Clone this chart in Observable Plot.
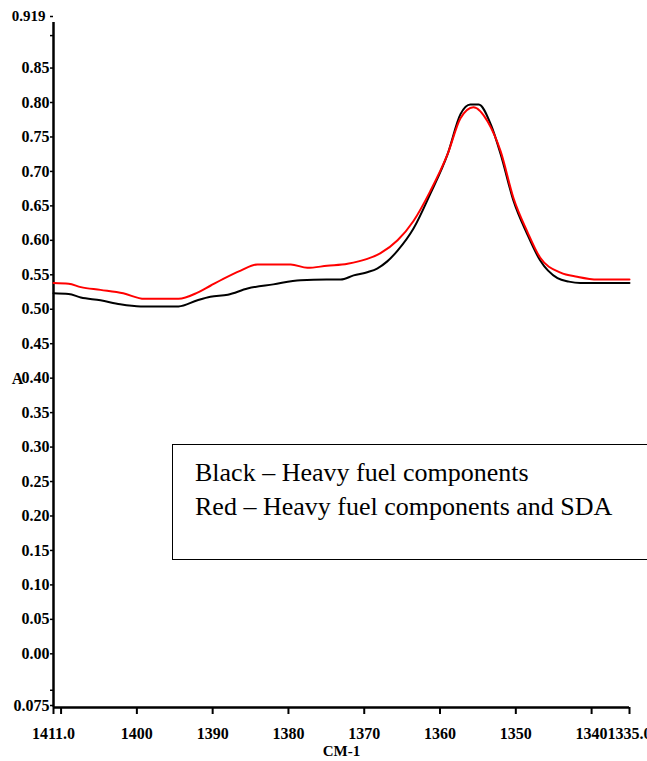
<!DOCTYPE html>
<html>
<head>
<meta charset="utf-8">
<script src="https://cdn.jsdelivr.net/npm/d3@7"></script>
<script src="https://cdn.jsdelivr.net/npm/@observablehq/plot@0.6"></script>
<style>
  html, body { margin: 0; padding: 0; background: #fff; }
  #wrap { position: relative; width: 647px; height: 761px; overflow: hidden; background: #fff; }
  #chart svg text { font-family: "Liberation Serif", "Times New Roman", serif; font-weight: bold; }
  #legend {
    position: absolute; left: 172px; top: 444px; width: 520px; height: 116px;
    border: 1.5px solid #000; box-sizing: border-box; background: #fff;
    font-family: "Liberation Serif", "Times New Roman", serif; font-size: 26px; color: #000;
    padding: 11px 0 0 22px; line-height: 34px;
  }
</style>
</head>
<body>
<div id="wrap"><div id="chart"></div>
<div id="legend"><div>Black – Heavy fuel components</div><div>Red – Heavy fuel components and SDA</div></div>
</div>
<script>
// Wavenumbers (cm-1) and absorbance
const blackWn = [1411, 1409, 1407.4, 1404.8, 1402.2, 1399.5, 1396, 1394.5, 1392, 1390.3, 1388, 1385.4, 1382, 1378.4, 1375, 1373.1, 1371.4, 1369.5, 1368.3, 1367, 1365.6, 1363.5, 1361.3, 1359, 1357.3, 1356, 1354.9, 1353.3, 1352, 1350.3, 1348.5, 1346.8, 1344.5, 1343, 1341.5, 1338, 1335];
const blackA  = [0.526, 0.525, 0.520, 0.516, 0.510, 0.507, 0.507, 0.507, 0.516, 0.521, 0.524, 0.533, 0.539, 0.545, 0.546, 0.546, 0.552, 0.557, 0.562, 0.572, 0.588, 0.620, 0.670, 0.728, 0.786, 0.800, 0.800, 0.771, 0.728, 0.660, 0.612, 0.574, 0.548, 0.543, 0.541, 0.541, 0.541];
const redWn = [1411, 1409, 1407.4, 1404.8, 1401.8, 1399, 1396, 1394.5, 1392, 1390.3, 1388.6, 1386.3, 1384.1, 1382, 1379.7, 1377.5, 1374.9, 1372.2, 1369.6, 1367.9, 1365.6, 1363.5, 1361.3, 1359, 1357.3, 1355.6, 1353.7, 1352, 1350.3, 1348.5, 1346.8, 1344.1, 1341.9, 1339.2, 1335];
const redA  = [0.541, 0.540, 0.535, 0.531, 0.526, 0.518, 0.518, 0.518, 0.527, 0.537, 0.547, 0.559, 0.568, 0.568, 0.568, 0.563, 0.566, 0.569, 0.576, 0.584, 0.603, 0.631, 0.674, 0.728, 0.780, 0.796, 0.775, 0.732, 0.664, 0.616, 0.578, 0.556, 0.550, 0.546, 0.546];

const xTicks = [1411, 1400, 1390, 1380, 1370, 1360, 1350, 1340, 1335];
const xTickLabels = ["1411.0", "1400", "1390", "1380", "1370", "1360", "1350", "1340", "1335.0"];
const xMinorTicks = [1410];
const yTicks = [0.85, 0.80, 0.75, 0.70, 0.65, 0.60, 0.55, 0.50, 0.45, 0.40, 0.35, 0.30, 0.25, 0.20, 0.15, 0.10, 0.05, 0.00, -0.075];
const yTickLabels = ["0.85", "0.80", "0.75", "0.70", "0.65", "0.60", "0.55", "0.50", "0.45", "0.40", "0.35", "0.30", "0.25", "0.20", "0.15", "0.10", "0.05", "0.00", "0.075"];
const yTopTick = [0.919];
const yTopLabel = ["0.919"];
const yMinorTicks = [0.90, -0.05];
const xDomain = [1411, 1335];
const yDomain = [-0.075, 0.919];

const black = blackWn.map((w, i) => ({wn: w, a: blackA[i]}));
const red = redWn.map((w, i) => ({wn: w, a: redA[i]}));
const xLab = new Map(xTicks.map((t, i) => [t, xTickLabels[i]]));
const yLab = new Map(yTicks.map((t, i) => [t, yTickLabels[i]]));
const FF = "'Liberation Serif', 'Times New Roman', serif";

const chart = Plot.plot({
  width: 647,
  height: 761,
  marginLeft: 53,
  marginRight: 18,
  marginTop: 22,
  marginBottom: 54,
  style: {fontFamily: FF, fontSize: "16px", fontWeight: "bold", background: "#fff", color: "#000", overflow: "visible"},
  x: {type: "linear", domain: xDomain},
  y: {type: "linear", domain: yDomain},
  marks: [
    Plot.axisX({ticks: xTicks, tickFormat: d => xLab.get(d), tickSize: 7, tickPadding: 13, strokeWidth: 2, label: null, fontSize: 16, fontWeight: "bold", fontFamily: FF}),
    Plot.axisX({ticks: xMinorTicks, tickFormat: () => "", tickSize: 7, strokeWidth: 2, label: null}),
    Plot.axisY({ticks: yTicks, tickFormat: d => yLab.get(d), tickSize: 3, tickPadding: 1, strokeWidth: 1.5, label: null, fontSize: 16, fontWeight: "bold", fontFamily: FF, dy: -2}),
    Plot.axisY({ticks: yTopTick, tickFormat: (d, i) => yTopLabel[i], tickSize: 3, tickPadding: 5, strokeWidth: 1.5, label: null, fontSize: 15, fontWeight: "bold", fontFamily: FF, dy: -6}),
    Plot.axisY({ticks: yMinorTicks, tickFormat: () => "", tickSize: 3, strokeWidth: 1.5, label: null}),
    Plot.ruleX([xDomain[0]], {y1: yDomain[0], y2: yDomain[1], stroke: "#000", strokeWidth: 2.5}),
    Plot.ruleY([yDomain[0]], {x1: xDomain[0], x2: xDomain[1], stroke: "#000", strokeWidth: 2.5}),
    Plot.line(black, {x: "wn", y: "a", stroke: "#000", strokeWidth: 2, curve: "monotone-x"}),
    Plot.line(red, {x: "wn", y: "a", stroke: "#ff0000", strokeWidth: 2, curve: "monotone-x"}),
    Plot.text(["A"], {frameAnchor: "left", dx: -36, dy: 14, fontSize: 16, fontWeight: "bold", fontFamily: FF, textAnchor: "middle"}),
    Plot.text(["CM-1"], {frameAnchor: "bottom", dy: 48, fontSize: 15, fontWeight: "bold", fontFamily: FF, textAnchor: "middle"})
  ]
});
document.getElementById("chart").appendChild(chart);
</script>
</body>
</html>
